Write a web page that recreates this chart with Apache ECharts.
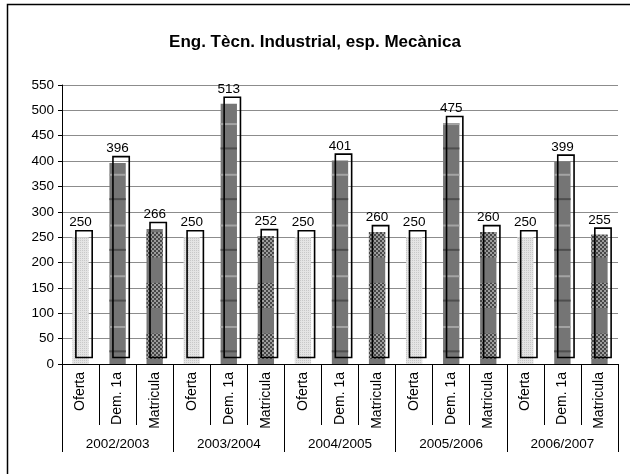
<!DOCTYPE html>
<html>
<head>
<meta charset="utf-8">
<script src="https://cdn.jsdelivr.net/npm/echarts@6/dist/echarts.min.js"></script>
<style>
html,body{margin:0;padding:0;background:#fff;}
#main{width:630px;height:474px;}
</style>
</head>
<body>
<div id="main"></div>
<script>
const titleText = 'Eng. Tècn. Industrial, esp. Mecànica';
const years = ['2002/2003', '2003/2004', '2004/2005', '2005/2006', '2006/2007'];
const measures = ['Oferta', 'Dem. 1a', 'Matricula'];
const oferta = [250, 250, 250, 250, 250];
const demanda = [396, 513, 401, 475, 399];
const matricula = [266, 252, 260, 260, 255];
const yTicks = [0, 50, 100, 150, 200, 250, 300, 350, 400, 450, 500, 550];

const FONT = "'Liberation Sans', Arial, sans-serif";

function makePattern(w, h, draw) {
  const c = document.createElement('canvas');
  c.width = w; c.height = h;
  const ctx = c.getContext('2d');
  draw(ctx);
  return { image: c, repeat: 'repeat' };
}
const lightPat = makePattern(4, 4, ctx => {
  ctx.fillStyle = '#e4e4e4'; ctx.fillRect(0, 0, 4, 4);
  ctx.fillStyle = '#c8c8c8';
  ctx.fillRect(0, 0, 1, 1); ctx.fillRect(2, 2, 1, 1);
  ctx.fillRect(2, 0, 1, 1); ctx.fillRect(0, 2, 1, 1);
});
const checkPat = makePattern(4, 4, ctx => {
  ctx.fillStyle = '#9c9c9c'; ctx.fillRect(0, 0, 4, 4);
  ctx.fillStyle = '#464646';
  ctx.fillRect(0, 0, 2, 2); ctx.fillRect(2, 2, 2, 2);
});

const categories = [];
const seriesData = [];
years.forEach((y, i) => {
  const vals = [oferta[i], demanda[i], matricula[i]];
  measures.forEach((m, j) => {
    categories.push(m);
    seriesData.push([i * 3 + j, vals[j], j]);
  });
});

function renderItem(params, api) {
  const idx = api.value(0), v = api.value(1), kind = api.value(2);
  const base = api.coord([idx, 0]);
  const top = api.coord([idx, v]);
  const bw = api.size([1, 0])[0] * 0.44;
  const x0 = base[0] - bw / 2;
  const h = base[1] - top[1];
  const children = [];
  let fill = kind === 0 ? lightPat : '#757575';
  children.push({ type: 'rect', shape: { x: x0, y: top[1], width: bw, height: h }, style: { fill: fill } });
  if (kind === 1) {
    for (let k = 0; k <= 6; k++) {
      const lv = 100 * k - 27, dv = 100 * k + 25;
      if (lv > 0 && lv < v) {
        const yy = api.coord([idx, lv])[1];
        children.push({ type: 'rect', shape: { x: x0, y: yy - 1, width: bw, height: 2 }, style: { fill: '#a4a4a4' } });
      }
      if (dv > 0 && dv < v) {
        const yy = api.coord([idx, dv])[1];
        children.push({ type: 'rect', shape: { x: x0, y: yy - 1, width: bw, height: 2 }, style: { fill: '#4e4e4e' } });
      }
    }
  }
  if (kind === 2) {
    for (let k = 0; k <= 6; k++) {
      const a = 100 * k + 10, b = Math.min(100 * k + 60, v);
      if (a < v) {
        const ya = api.coord([idx, a])[1], yb = api.coord([idx, b])[1];
        children.push({ type: 'rect', shape: { x: x0, y: yb, width: bw, height: ya - yb }, style: { fill: checkPat } });
      }
    }
  }
  children.push({ type: 'rect', shape: { x: x0 + 3.5, y: top[1] - 6.5, width: bw, height: h }, style: { fill: 'none', stroke: '#000', lineWidth: 1.6 } });
  children.push({ type: 'text', style: { text: String(v), x: base[0], y: top[1] - 7.5, align: 'center', verticalAlign: 'bottom', fill: '#000', font: '13.5px ' + FONT } });
  return { type: 'group', children: children };
}

const chart = echarts.init(document.getElementById('main'), null, { renderer: 'canvas' });
chart.setOption({
  animation: false,
  backgroundColor: '#fff',
  title: {
    text: titleText, left: 'center', top: 29,
    textStyle: { fontFamily: FONT, fontSize: 17, fontWeight: 'bold', color: '#000' }
  },
  graphic: [{
    type: 'rect', shape: { x: 7.5, y: 4.5, width: 700, height: 520 },
    style: { fill: 'none', stroke: '#000', lineWidth: 1.5 }, silent: true, z: 100
  }],
  grid: { left: 62, right: 12, top: 85, bottom: 110 },
  xAxis: [{
    type: 'category', data: categories, gridIndex: 0, position: 'bottom',
    axisLine: { show: true, lineStyle: { color: '#000', width: 1 } },
    axisTick: { show: true, interval: 0, length: 61, lineStyle: { color: '#000' } },
    axisLabel: { interval: 0, rotate: 90, margin: 8, fontFamily: FONT, fontSize: 14, color: '#000' },
    splitLine: { show: false }
  }, {
    type: 'category', data: years, gridIndex: 0, position: 'bottom',
    axisLine: { show: false },
    axisTick: { show: true, interval: 0, length: 88, lineStyle: { color: '#000' } },
    axisLabel: { interval: 0, margin: 73, fontFamily: FONT, fontSize: 13.5, color: '#000' },
    splitLine: { show: false }
  }],
  yAxis: {
    type: 'value', min: yTicks[0], max: yTicks[yTicks.length - 1], interval: yTicks[1] - yTicks[0],
    axisLine: { show: true, lineStyle: { color: '#000' } },
    axisTick: { show: true, length: 4, lineStyle: { color: '#000' } },
    axisLabel: { margin: 8, fontFamily: FONT, fontSize: 13.5, color: '#000' },
    splitLine: { show: true, lineStyle: { color: '#8c8c8c', width: 1 } }
  },
  series: [{
    type: 'custom', xAxisIndex: 0, yAxisIndex: 0, clip: false,
    renderItem: renderItem, data: seriesData
  }]
});
</script>
</body>
</html>
